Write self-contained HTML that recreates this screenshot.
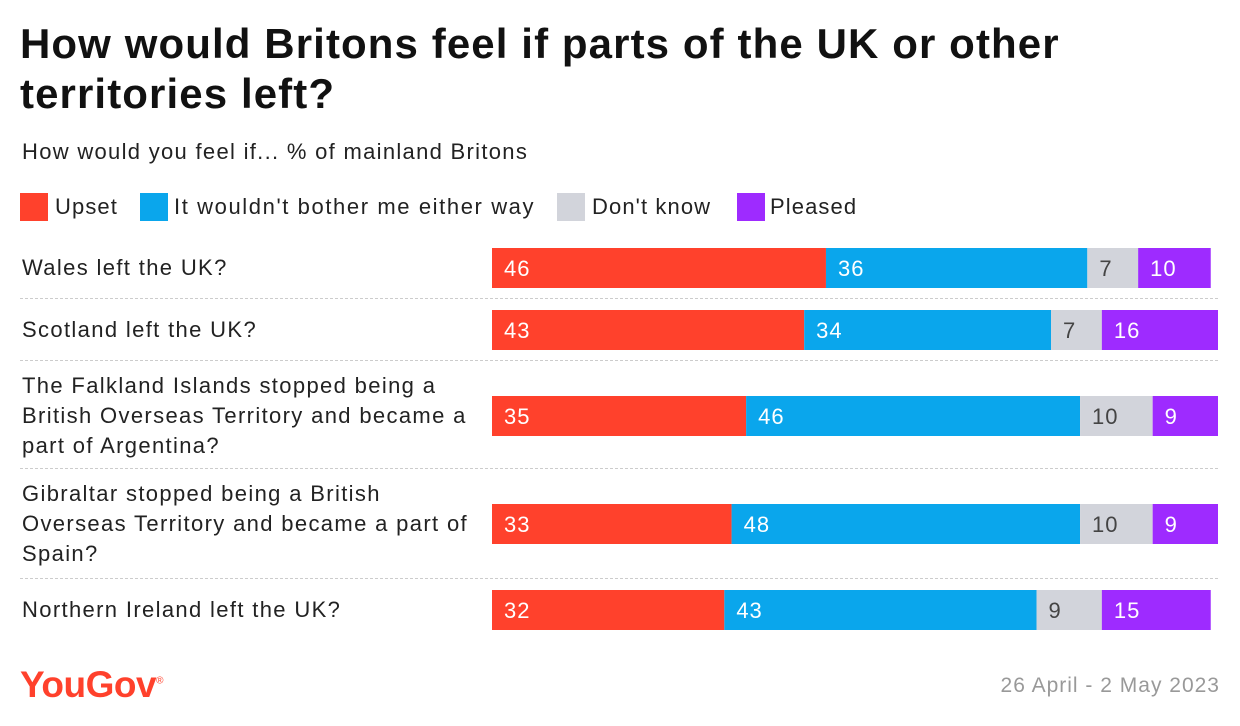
<!DOCTYPE html>
<html><head><meta charset="utf-8"><style>
body{margin:0;width:1240px;height:726px;background:#fff;font-family:"Liberation Sans",sans-serif;position:relative;overflow:hidden;color:#222}
.abs{position:absolute}
h1{position:absolute;left:20px;top:19px;margin:0;font-size:42px;line-height:50px;font-weight:bold;letter-spacing:1.1px;color:#111;white-space:nowrap}
.sub{left:22px;top:139px;font-size:22px;letter-spacing:1.3px;color:#222}
.leg{top:193px;font-size:22px;left:0;width:1240px;height:28px}
.leg span{position:absolute;top:0;width:28px;height:28px}
.leg b{position:absolute;top:0;font-weight:normal;letter-spacing:1.1px;line-height:28px;white-space:nowrap}
.lab{left:22px;font-size:22px;line-height:30px;letter-spacing:1.35px;color:#222;white-space:nowrap}
.div{left:20px;width:1198px;border-top:1px dashed #ccc;height:0}
.logo{left:20px;top:664px;font-size:37px;color:#ff412c;font-weight:bold;letter-spacing:-0.5px}
.date{right:20px;top:674px;font-size:21px;letter-spacing:1px;color:#999}
</style></head><body>
<h1>How would Britons feel if parts of the UK or other<br>territories left?</h1>
<div class="abs sub">How would you feel if... % of mainland Britons</div>
<div class="abs leg">
<span style="left:20px;background:#ff412c"></span><b style="left:55px">Upset</b>
<span style="left:140px;background:#0aa6ec"></span><b style="left:174px;letter-spacing:1.6px">It wouldn't bother me either way</b>
<span style="left:557px;background:#d2d4db"></span><b style="left:592px">Don't know</b>
<span style="left:737px;background:#9e2bff"></span><b style="left:770px">Pleased</b>
</div>
<div class="abs lab" style="top:253px">Wales left the UK?</div>
<div class="abs lab" style="top:315px">Scotland left the UK?</div>
<div class="abs lab" style="top:371px">The Falkland Islands stopped being a<br>British Overseas Territory and became a<br>part of Argentina?</div>
<div class="abs lab" style="top:479px">Gibraltar stopped being a British<br>Overseas Territory and became a part of<br>Spain?</div>
<div class="abs lab" style="top:595px">Northern Ireland left the UK?</div>
<div class="abs div" style="top:298px"></div>
<div class="abs div" style="top:360px"></div>
<div class="abs div" style="top:468px"></div>
<div class="abs div" style="top:578px"></div>
<svg class="abs" style="left:0;top:0" width="1240" height="726" id="chart"></svg>
<div class="abs logo">YouGov<sup style="font-size:10px;font-weight:normal">®</sup></div>
<div class="abs date">26 April - 2 May 2023</div>
<script>
const upset=[46,43,35,33,32];
const indifferent=[36,34,46,48,43];
const dontKnow=[7,7,10,10,9];
const pleased=[10,16,9,9,15];
const rowTops=[248,310,396,504,590];
const series=[upset,indifferent,dontKnow,pleased];
const colors=['#ff412c','#0aa6ec','#d2d4db','#9e2bff'];
const textColors=['#fff','#fff','#444','#fff'];
const names=['upset','indifferent','dont-know','pleased'];
const x=v=>492+v*7.26;
const svg=document.getElementById('chart');
const NS='http://www.w3.org/2000/svg';
rowTops.forEach((top,i)=>{
 let acc=0;
 series.forEach((s,j)=>{
  const v=s[i];
  const r=document.createElementNS(NS,'rect');
  r.setAttribute('x',x(acc));r.setAttribute('y',top);
  r.setAttribute('width',x(acc+v)-x(acc));r.setAttribute('height',40);
  r.setAttribute('fill',colors[j]);
  
  
  svg.appendChild(r);
  const t=document.createElementNS(NS,'text');
  t.setAttribute('x',x(acc)+12);t.setAttribute('y',top+28);
  t.setAttribute('fill',textColors[j]);t.setAttribute('font-size','22');
  t.setAttribute('letter-spacing','1');
  t.setAttribute('font-family','Liberation Sans, sans-serif');
  t.textContent=v;
  
  
  svg.appendChild(t);
  acc+=v;
 });
});
</script>
</body></html>
